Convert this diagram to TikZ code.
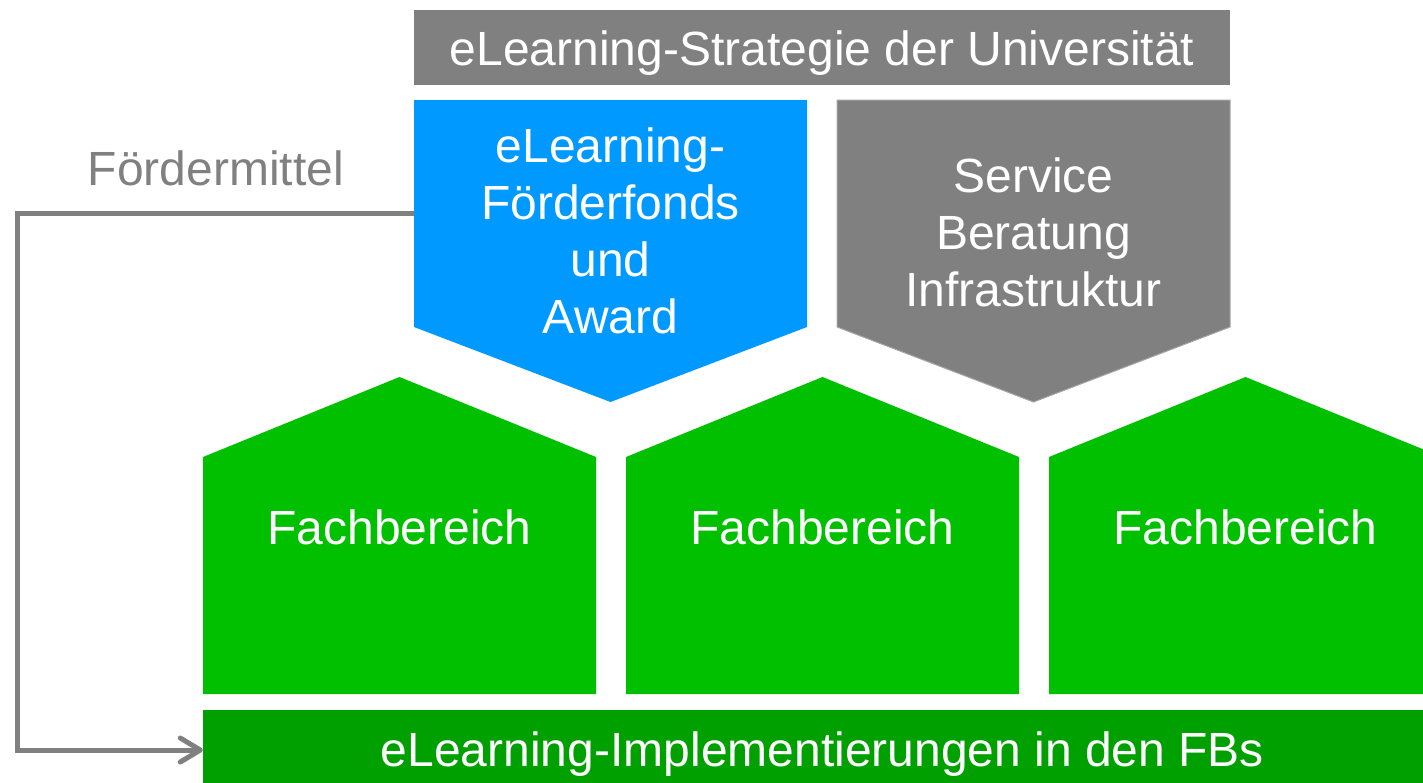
\documentclass[tikz,border=0pt]{standalone}
\usepackage{fontspec}
\setmainfont{Liberation Sans}
\usepackage{xcolor}
\usepackage{tikz}
\usetikzlibrary{positioning, arrows.meta}

\definecolor{fundblue}{RGB}{0,153,255}
\definecolor{boxgray}{RGB}{128,128,128}
\definecolor{edgegray}{RGB}{166,166,166}
\definecolor{fbgreen}{RGB}{0,192,0}
\definecolor{implgreen}{RGB}{0,160,0}

\begin{document}
\begin{tikzpicture}[x=1pt, y=-1pt,
    big/.style={font=\fontsize{48}{57}\selectfont, inner sep=0pt},
    bar/.style={big, text=white, text height=36pt, text depth=0pt},
    feed/.style={boxgray, line width=5pt, -{Straight Barb[length=20pt, width=24pt, round]}}]
            \useasboundingbox (0,0) rectangle (1423,782);
            \clip (0,0) rectangle (1423,782);
            \node[bar, fill=boxgray, minimum width=816pt, minimum height=75pt] (strategy) at (822,47) {eLearning-Strategie der Universität};
            % the two offers
            \fill[fundblue] (414,100) -- (807,100) -- (807,327) -- (610.5,402) -- (414,327) -- cycle;
            \filldraw[fill=boxgray, draw=edgegray, line width=1pt] (837,100) -- (1230,100) -- (1230,327) -- (1033.5,402) -- (837,327) -- cycle;
            \node[big, text=white, align=center] (fund) at (610.5,231) {eLearning-\\Förderfonds\\und\\Award};
            \node[big, text=white, align=center] (service) at (1033.5,232.5) {Service\\Beratung\\Infrastruktur};
            \coordinate (fund-w) at (414,213);
            % departments
            \foreach \x [count=\i] in {203,626,1049} {
                \fill[fbgreen] (\x,694) -- (\x,457) -- (\x+196.5,377) -- (\x+393,457) -- (\x+393,694) -- cycle;
                \node[big, text=white, anchor=base] (fb\i) at (\x+196.5,544) {Fachbereich};
            }
            \node[bar, fill=implgreen, minimum width=1239pt, minimum height=80pt, text height=32pt] (impl) at (822.5,750) {eLearning-Implementierungen in den FBs};
            % funding loop
            \node[big, text=boxgray, anchor=base] (funds) at (216,185) {Fördermittel};
            \coordinate (turn) at (17,0);
            \draw[feed] (fund-w) -- (fund-w -| turn) |- (impl.west);
        \end{tikzpicture}
\end{document}
